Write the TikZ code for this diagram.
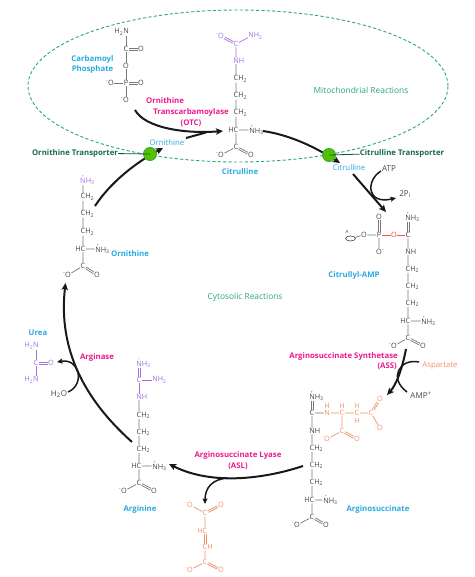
\documentclass[tikz,border=0pt]{standalone}
\usepackage{fontspec}
\setmainfont{Open Sans}
\usetikzlibrary{arrows.meta,shapes.geometric}
\definecolor{lblue}{HTML}{27AAE1}
\definecolor{mag}{HTML}{EC1A8C}
\definecolor{mgreen}{HTML}{2BA77C}
\definecolor{dgreen}{HTML}{17694A}
\definecolor{purp}{HTML}{A070DC}
\definecolor{oran}{HTML}{F08F6C}
\definecolor{gtext}{HTML}{454545}
\definecolor{gbond}{HTML}{787878}
\newcommand{\ptN}{\makebox[0pt][l]{\hspace{1.6pt}\raisebox{6.2pt}{\fontsize{3.6}{3.6}\selectfont +}}N\rlap{H\textsubscript{3}}}
\newcommand{\mO}{\llap{\textsuperscript{-}}O}
\newcommand{\CHt}{C\rlap{H\textsubscript{2}}}
\newcommand{\HCc}{\llap{H}C}
\newcommand{\NHr}{N\rlap{H}}
% double bond: two lines between two named atoms, shifted by +-(dx,dy)
\newcommand{\dbnd}[5]{%
 \draw[#1,transform canvas={shift={(#4,#5)}}] (#2)--(#3);
 \draw[#1,transform canvas={shift={(-#4,-#5)}}] (#2)--(#3);}
\tikzset{
 atom/.style={inner sep=0.4pt,font=\fontsize{7.3}{8}\selectfont,text=gtext},
 atomp/.style={atom,text=purp}, atomo/.style={atom,text=oran}, atomr/.style={atom,text=red!75!white},
 bd/.style={draw=gbond,line width=0.7pt},
 bdp/.style={draw=purp,line width=0.7pt}, bdo/.style={draw=oran,line width=0.7pt}, bdr/.style={draw=red!70!white,line width=0.7pt},
 lab/.style={font=\fontsize{7.8}{10.8}\selectfont\bfseries,inner sep=0pt,align=center},
 metab/.style={lab,text=lblue}, enz/.style={lab,text=mag},
 trans/.style={lab,text=dgreen},
 reg/.style={font=\fontsize{8.4}{10}\selectfont,inner sep=0pt,text=mgreen},
 plain/.style={font=\fontsize{8}{10}\selectfont,inner sep=0pt,text=gtext},
 rxn/.style={draw=black!90,line width=2pt,-{Stealth[length=7pt,width=6.5pt,inset=1.5pt]}},
 rxnn/.style={draw=black!90,line width=2pt},
 rxns/.style={draw=black!90,line width=1.5pt,-{Stealth[length=5.5pt,width=5pt,inset=1pt]}},
 tport/.style={circle,minimum size=13pt,inner sep=0pt,draw=green!60!black!80,line width=0.9pt,fill=green!55!yellow!75!black},
 tline/.style={draw=dgreen!80!black,line width=0.8pt},
}
\begin{document}
\begin{tikzpicture}[x=1pt,y=-1pt]
\useasboundingbox (0,0) rectangle (474,577);
\node[draw=mgreen,dash pattern=on 3.2pt off 2.2pt,line width=0.9pt,ellipse,minimum width=420pt,minimum height=152pt,inner sep=0pt] (mito) at (238,86) {};
% labels
\node[metab,align=center] (lcp) at (92.5,64.5) {Carbamoyl\\Phosphate};
\node[enz] (lotc) at (191,112) {Ornithine\hspace*{52pt}\\Transcarbamoylase\\(OTC)};
\node[metab,font=\fontsize{7.8}{10}\selectfont] (lorn1) at (167,142.5) {Ornithine};
\node[metab] (lcit1) at (240,172) {Citrulline};
\node[metab,font=\fontsize{7.8}{10}\selectfont] (lcit2) at (349,167.5) {Citrulline};
\node[trans] (lotr) at (75,153) {Ornithine Transporter};
\node[trans] (lctr) at (402,153) {Citrulline Transporter};
\node[reg] (lmito) at (361,90) {Mitochondrial Reactions};
\node[reg] (lcyto) at (245,297) {Cytosolic Reactions};
\node[plain] (latp) at (389,169) {ATP};
\node[plain] (lpi) at (405,194) {2P\textsubscript{i}};
\node[metab] (lcamp) at (354,275) {Citrullyl-AMP};
\node[enz,align=right,anchor=north east] (lass) at (398,352) {Arginosuccinate Synthetase\\(ASS)\hspace*{1pt}};
\node[lab,text=oran,font=\fontsize{7.8}{10}\selectfont] (lasp) at (440,365.5) {Aspartate};
\node[plain] (lamp) at (421,395.5) {AMP\textsuperscript{+}};
\node[metab] (lasn) at (378,509) {Arginosuccinate};
\node[enz] (lasl) at (238,460.5) {Arginosuccinate Lyase\\(ASL)};
\node[metab] (larg) at (140,509) {Arginine};
\node[enz] (lase) at (97,357) {Arginase};
\node[plain] (lwat) at (59,394) {H\textsubscript{2}O};
\node[metab] (lurea) at (38,333) {Urea};
\node[metab] (lorn2) at (130,254) {Ornithine};

% Carbamoyl phosphate
\node[atom] (cp1) at (126,32) {\llap{H\textsubscript{2}}N};
\node[atom] (cp2) at (126,49) {C};
\node[atom] (cp3) at (141,49) {O};
\node[atom] (cp4) at (126,66) {O};
\node[atom] (cp5) at (126,83) {P};
\node[atom] (cp6) at (111,83) {\mO};
\node[atom] (cp7) at (141,83) {O};
\node[atom] (cp8) at (126,100) {\mO};
\draw[bd] (cp1)--(cp2) (cp2)--(cp4) (cp4)--(cp5) (cp5)--(cp6) (cp5)--(cp8);
\dbnd{bd}{cp2}{cp3}{0}{0.9} \dbnd{bd}{cp5}{cp7}{0}{0.9}

% Citrulline
\node[atomp] (ci1) at (221,36) {\mO};
\node[atomp] (ci2) at (236,44) {C};
\node[atomp] (ci3) at (251,36) {N\rlap{H\textsubscript{2}}};
\node[atomp] (ci4) at (236,61) {\NHr};
\node[atom] (ci5) at (236,79) {\CHt};
\node[atom] (ci6) at (236,96) {\CHt};
\node[atom] (ci7) at (236,113) {\CHt};
\node[atom] (ci8) at (236,130) {\HCc};
\node[atom] (ci9) at (252,130) {\ptN};
\node[atom] (ci10) at (236,147) {C};
\node[atom] (ci11) at (221,155) {\mO};
\node[atom] (ci12) at (251,155) {O};
\dbnd{bdp}{ci2}{ci1}{0.42}{-0.8}
\draw[bdp] (ci2)--(ci3) (ci2)--(ci4);
\draw[bd] (ci4)--(ci5) (ci5)--(ci6) (ci6)--(ci7) (ci7)--(ci8) (ci8)--(ci9) (ci8)--(ci10) (ci10)--(ci11);
\dbnd{bd}{ci10}{ci12}{0.42}{-0.8}

% Citrullyl-AMP
\node[atom] (ca1) at (408,217) {\ptN};
\node[atom] (ca2) at (408,235) {C};
\node[atomr] (ca3) at (394,235) {O};
\node[atom] (ca4) at (379,235) {P};
\node[atom] (ca5) at (379,217) {O};
\node[atom] (ca6) at (379,252) {O\rlap{\textsuperscript{-}}};
\node[atom] (ca7) at (364,235) {O};
\node[draw=gtext,line width=0.6pt,ellipse,minimum width=10pt,minimum height=5pt,inner sep=0pt] (ca8) at (350.5,238.5) {};
\node[atom,font=\fontsize{4.5}{5}\selectfont] (ca9) at (347,232) {A};
\node[atom] (ca10) at (408,252) {\NHr};
\node[atom] (ca11) at (408,269) {\CHt};
\node[atom] (ca12) at (408,286) {\CHt};
\node[atom] (ca13) at (408,303) {\CHt};
\node[atom] (ca14) at (408,321) {\HCc};
\node[atom] (ca15) at (424,321) {\ptN};
\node[atom] (ca16) at (408,338) {C};
\node[atom] (ca17) at (394,346) {\mO};
\node[atom] (ca18) at (423,346) {O};
\dbnd{bd}{ca1}{ca2}{0.9}{0} \dbnd{bd}{ca4}{ca5}{0.9}{0}
\draw[bdr] (ca2)--(ca3) (ca3)--(ca4);
\draw[bd] (ca4)--(ca6) (ca4)--(ca7) (ca7)--(ca8) (ca2)--(ca10) (ca10)--(ca11) (ca11)--(ca12) (ca12)--(ca13) (ca13)--(ca14) (ca14)--(ca15) (ca14)--(ca16) (ca16)--(ca17);
\dbnd{bd}{ca16}{ca18}{0.42}{-0.8}

% Argininosuccinate
\node[atom] (as1) at (312,396) {\ptN};
\node[atom] (as2) at (312,413) {C};
\node[atomo] (as3) at (327,413) {N};
\node[atomo] (as3h) at (327,405.5) {H};
\node[atomo] (as4) at (342,413) {C};
\node[atomo] (as4h) at (342,405.5) {H};
\node[atomo] (as5) at (357,413) {C};
\node[atomo] (as5h) at (357,405.5) {H};
\node[atomo] (as5i) at (357,420.5) {H};
\node[atomo] (as6) at (371,413) {C};
\node[atomo] (as7) at (380,399) {O};
\node[atomo] (as8) at (380,428) {\mO};
\node[atomo] (as9) at (342,431) {C};
\node[atomo] (as10) at (327,439) {\mO};
\node[atomo] (as11) at (357,439) {O};
\node[atom] (as12) at (312,431) {\NHr};
\node[atom] (as13) at (312,448) {\CHt};
\node[atom] (as14) at (312,465) {\CHt};
\node[atom] (as15) at (312,482) {\CHt};
\node[atom] (as16) at (312,500) {\HCc};
\node[atom] (as17) at (326,500) {\ptN};
\node[atom] (as18) at (312,517) {C};
\node[atom] (as19) at (297,525) {\mO};
\node[atom] (as20) at (326,525) {O};
\dbnd{bd}{as1}{as2}{0.9}{0}
\draw[bd] (as2)--(as3) (as2)--(as12) (as12)--(as13) (as13)--(as14) (as14)--(as15) (as15)--(as16) (as16)--(as17) (as16)--(as18) (as18)--(as19);
\dbnd{bd}{as18}{as20}{0.42}{-0.8}
\draw[bdo] (as3)--(as4) (as4)--(as5) (as5)--(as6) (as6)--(as8) (as4)--(as9) (as9)--(as10);
\dbnd{bdo}{as6}{as7}{0.76}{0.49} \dbnd{bdo}{as9}{as11}{0.42}{-0.8}

% Fumarate
\node[atomo] (fu1) at (190,505) {\mO};
\node[atomo] (fu2) at (205,513) {C};
\node[atomo] (fu3) at (221,505) {O};
\node[atomo] (fu4) at (205,531) {\HCc};
\node[atomo] (fu5) at (205,547) {C\rlap{H}};
\node[atomo] (fu6) at (205,562) {C};
\node[atomo] (fu7) at (190,570) {\mO};
\node[atomo] (fu8) at (221,570) {O};
\draw[bdo] (fu1)--(fu2) (fu2)--(fu4) (fu5)--(fu6) (fu6)--(fu7);
\dbnd{bdo}{fu2}{fu3}{0.4}{0.8} \dbnd{bdo}{fu4}{fu5}{0.9}{0} \dbnd{bdo}{fu6}{fu8}{0.42}{-0.8}

% Arginine
\node[atomp] (ar1) at (139,363) {\ptN};
\node[atomp] (ar2) at (139,380) {C};
\node[atomp] (ar3) at (155,380) {N\rlap{H\textsubscript{2}}};
\node[atomp] (ar4) at (139,397) {\NHr};
\node[atom] (ar5) at (139,415) {\CHt};
\node[atom] (ar6) at (139,432) {\CHt};
\node[atom] (ar7) at (139,449) {\CHt};
\node[atom] (ar8) at (139,466) {\HCc};
\node[atom] (ar9) at (155,466) {\ptN};
\node[atom] (ar10) at (139,483) {C};
\node[atom] (ar11) at (124,491) {\mO};
\node[atom] (ar12) at (154,491) {O};
\dbnd{bdp}{ar1}{ar2}{0.9}{0}
\draw[bdp] (ar2)--(ar3) (ar2)--(ar4);
\draw[bd] (ar4)--(ar5) (ar5)--(ar6) (ar6)--(ar7) (ar7)--(ar8) (ar8)--(ar9) (ar8)--(ar10) (ar10)--(ar11);
\dbnd{bd}{ar10}{ar12}{0.42}{-0.8}

% Ornithine
\node[atomp] (or1) at (83,180) {\ptN};
\node[atom] (or2) at (83,197) {\CHt};
\node[atom] (or3) at (83,214) {\CHt};
\node[atom] (or4) at (83,232) {\CHt};
\node[atom] (or5) at (83,249) {\HCc};
\node[atom] (or6) at (98,249) {\ptN};
\node[atom] (or7) at (83,266) {C};
\node[atom] (or8) at (68,275) {\mO};
\node[atom] (or9) at (97,275) {O};
\draw[bd] (or1)--(or2) (or2)--(or3) (or3)--(or4) (or4)--(or5) (or5)--(or6) (or5)--(or7) (or7)--(or8);
\dbnd{bd}{or7}{or9}{0.42}{-0.8}

% Urea
\node[atomp] (ur1) at (36,346) {\llap{H\textsubscript{2}}N};
\node[atomp] (ur2) at (36,363) {C};
\node[atomp] (ur3) at (51,363) {O};
\node[atomp] (ur4) at (36,380) {\llap{H\textsubscript{2}}N};
\draw[bdp] (ur1)--(ur2) (ur2)--(ur4);
\dbnd{bdp}{ur2}{ur3}{0}{0.9}

% reaction arrows
\coordinate (a1) at (135,110); \coordinate (a2) at (223,131);
\draw[rxn] (a1) .. controls (145,128) and (185,134) .. (a2);
\coordinate (b1) at (186,138); \coordinate (b2) at (206,132.5);
\draw[rxnn] (b1) -- (b2);
\coordinate (c1) at (95,206); \coordinate (c2) at (163,148);
\draw[rxn] (c1) .. controls (110,183) and (135,163) .. (c2);
\coordinate (d1) at (263,131); \coordinate (d2) at (340,163);
\draw[rxn] (d1) .. controls (290,135) and (315,147) .. (d2);
\coordinate (e1) at (353,174); \coordinate (e2) at (386,212);
\draw[rxn] (e1) -- (e2);
\coordinate (f1) at (381,171); \coordinate (f2) at (396,198);
\draw[rxns] (f1) .. controls (366,180) and (366,205) .. (f2);
\coordinate (g1) at (406,349); \coordinate (g2) at (387,395);
\draw[rxn] (g1) .. controls (402,370) and (396,385) .. (g2);
\coordinate (h1) at (419,362); \coordinate (h2) at (407,392);
\draw[rxnn,line width=1.5pt] (h1) .. controls (400,358) and (388,378) .. (h2);
\coordinate (i1) at (303,466); \coordinate (i2) at (169,464);
\draw[rxn] (i1) .. controls (270,477) and (215,487) .. (i2);
\coordinate (j1) at (228,478); \coordinate (j2) at (205,504);
\draw[rxns] (j1) .. controls (212,479) and (205,488) .. (j2);
\coordinate (k1) at (132,442); \coordinate (k2) at (65.5,283);
\draw[rxn] (k1) .. controls (85,400) and (58,350) .. (k2);
\coordinate (l1) at (68,392); \coordinate (l2) at (57,362);
\draw[rxns] (l1) .. controls (85,385) and (80,358) .. (l2);

% transporters
\node[tport] (otr) at (150,154) {};
\node[tport] (ctr) at (329,155) {};
\draw[tline] (lotr) -- (otr.center);
\draw[tline] (lctr) -- (ctr.center);
\end{tikzpicture}
\end{document}
